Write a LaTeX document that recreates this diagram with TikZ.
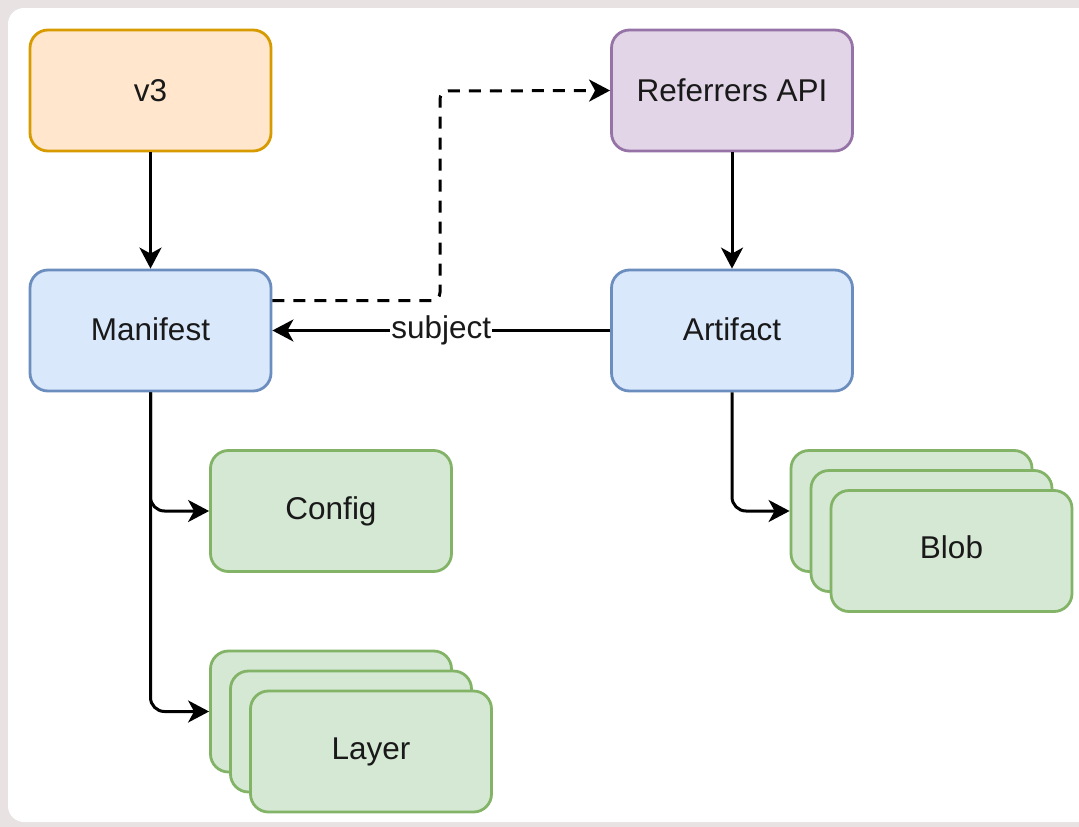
\documentclass[tikz,border=0pt]{standalone}
\usepackage{fontspec}
\setmainfont{Liberation Sans}
\usetikzlibrary{arrows.meta,calc}
\definecolor{orfill}{HTML}{FFE6CC}\definecolor{orline}{HTML}{D79B00}
\definecolor{pufill}{HTML}{E1D5E7}\definecolor{puline}{HTML}{9673A6}
\definecolor{blfill}{HTML}{DAE8FC}\definecolor{blline}{HTML}{6C8EBF}
\definecolor{grfill}{HTML}{D5E8D4}\definecolor{grline}{HTML}{82B366}
\definecolor{bgout}{RGB}{232,226,226}
\tikzset{
  box/.style={draw, rounded corners=18pt, line width=2.8pt, minimum width=241pt, minimum height=121pt, inner sep=0pt, font=\fontsize{31.5}{36}\selectfont, text=black!90},
  orbox/.style={box, fill=orfill, draw=orline},
  pubox/.style={box, fill=pufill, draw=puline},
  blbox/.style={box, fill=blfill, draw=blline},
  grbox/.style={box, fill=grfill, draw=grline},
  arr/.style={line width=3pt, -{Stealth[length=21pt,width=22pt,inset=6pt]}},
  lbl/.style={fill=white, inner sep=1pt, font=\fontsize{31.5}{36}\selectfont, text=black!90}
}
\begin{document}
\begin{tikzpicture}[x=1pt,y=-1pt]
\useasboundingbox (0,0) rectangle (1079,827);
\fill[bgout] (0,0) rectangle (1079,827);
\fill[white, rounded corners=16pt] (8,8) rectangle (1110,822);

\node[orbox] (v3) at (150.5,90.5) {v3};
\node[pubox] (ref) at (732,90.5) {Referrers API};
\node[blbox] (manifest) at (150.5,330.5) {\raisebox{3pt}{Manifest}};
\node[blbox] (artifact) at (732,330.5) {\raisebox{3pt}{Artifact}};
\node[grbox] (config) at (331,511) {\raisebox{3pt}{Config}};

\node[grbox] (layerback) at (331,711.5) {};
\node[grbox] (layermid) at (351,731.5) {};
\node[grbox] (layer) at (371,751.5) {\raisebox{4pt}{Layer}};

\node[grbox] (blobback) at (911.5,511) {};
\node[grbox] (blobmid) at (931.5,531) {};
\node[grbox] (blob) at (951.5,551) {\raisebox{8pt}{Blob}};

\coordinate (dashturn) at (440,91);

\draw[arr] (v3) -- (manifest);
\draw[arr] (ref) -- (artifact);
\draw[arr] (artifact) -- node[lbl] {\raisebox{2pt}{subject}} (manifest);
\draw[arr, dash pattern=on 12pt off 9pt, rounded corners=8pt] ([yshift=30pt]manifest.east) -| (dashturn) -- (ref.west);
\draw[arr, rounded corners=14pt] (manifest.south) |- (config.west);
\draw[arr, rounded corners=14pt] (manifest.south) |- (layerback.west);
\draw[arr, rounded corners=14pt] (artifact.south) |- (blobback.west);
\end{tikzpicture}
\end{document}
